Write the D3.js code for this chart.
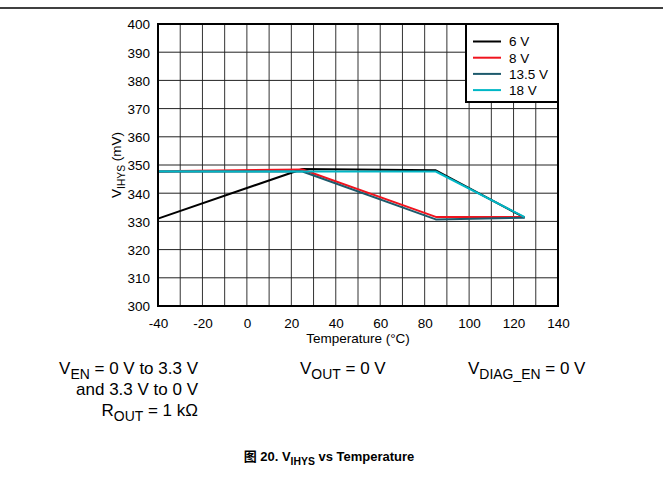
<!DOCTYPE html>
<html>
<head>
<meta charset="utf-8">
<script src="https://cdn.jsdelivr.net/npm/d3@7"></script>
<style>
  body { margin: 0; background: #fff; }
  svg { display: block; font-family: "Liberation Sans", Arial, "Noto Sans CJK SC", sans-serif; }
</style>
</head>
<body>
<div id="chart"></div>
<script>
// temperature breakpoints (degC) and V_IHYS readings (mV) per supply
var temps = [-40, 25, 85, 125];
var series = ['6 V', '8 V', '13.5 V', '18 V'];
var v6 = [331.0, 348.6, 348.1, 331.3];
var v8 = [347.8, 348.4, 331.6, 331.6];
var v13_5 = [347.6, 347.7, 330.7, 331.3];
var v18 = [347.8, 347.7, 347.7, 331.5];
var colors = ['#000000', '#f0141e', '#1d5a6c', '#00b7c6'];
var xTicks = d3.range(-40, 141, 20);
var yTicks = d3.range(300, 401, 10);

var W = 663, H = 491;
var plot = {left: 158, right: 558, top: 24, bottom: 306};

var svg = d3.select('#chart').append('svg')
    .attr('width', W)
    .attr('height', H);

svg.append('rect').attr('width', W).attr('height', H).attr('fill', '#fff');

// rule along the top of the page
svg.append('line')
    .attr('x1', 0).attr('x2', W)
    .attr('y1', 8).attr('y2', 8)
    .attr('stroke', '#000').attr('stroke-width', 1.5);

var x = d3.scaleLinear().domain([-40, 140]).range([plot.left, plot.right]);
var y = d3.scaleLinear().domain([300, 400]).range([plot.bottom, plot.top]);

// grid
var grid = svg.append('g').attr('class', 'grid');
grid.selectAll('.vg').data(d3.range(-30, 140, 10)).enter().append('line')
    .attr('x1', d => x(d)).attr('x2', d => x(d))
    .attr('y1', plot.top).attr('y2', plot.bottom)
    .attr('stroke', '#333').attr('stroke-width', 1);
grid.selectAll('.hg').data(d3.range(310, 400, 10)).enter().append('line')
    .attr('x1', plot.left).attr('x2', plot.right)
    .attr('y1', d => y(d)).attr('y2', d => y(d))
    .attr('stroke', '#222').attr('stroke-width', 1);

// axes (labels only, frame drawn separately)
var xAxis = svg.append('g')
    .attr('transform', 'translate(0,' + plot.bottom + ')')
    .call(d3.axisBottom(x).tickValues(xTicks).tickSize(0).tickPadding(12)
        .tickFormat(d => String(d)));
var yAxis = svg.append('g')
    .attr('transform', 'translate(' + plot.left + ',0)')
    .call(d3.axisLeft(y).tickValues(yTicks).tickSize(0).tickPadding(8)
        .tickFormat(d => String(d)));
[xAxis, yAxis].forEach(function(a) {
    a.select('.domain').remove();
    a.selectAll('text')
        .attr('font-family', '"Liberation Sans", Arial, sans-serif')
        .attr('font-size', 13.5)
        .attr('fill', '#000');
});
yAxis.selectAll('text').attr('dy', '0.36em');

// lines
var line = d3.line().x((d, i) => x(temps[i])).y(d => y(d));
var allValues = [v6, v8, v13_5, v18];
svg.append('g').selectAll('path').data(allValues).enter().append('path')
    .attr('d', line)
    .attr('fill', 'none')
    .attr('stroke', (d, i) => colors[i])
    .attr('stroke-width', 2)
    .attr('stroke-linejoin', 'round');

// frame
svg.append('rect')
    .attr('x', plot.left).attr('y', plot.top)
    .attr('width', plot.right - plot.left).attr('height', plot.bottom - plot.top)
    .attr('fill', 'none').attr('stroke', '#000').attr('stroke-width', 2);

// legend
var lg = svg.append('g');
lg.append('rect')
    .attr('x', 466).attr('y', plot.top)
    .attr('width', plot.right - 466).attr('height', 78)
    .attr('fill', '#fff').attr('stroke', '#000').attr('stroke-width', 2);
var items = lg.selectAll('.item').data(series).enter().append('g')
    .attr('transform', (d, i) => 'translate(0,' + (41.5 + i * 16.2) + ')');
items.append('line')
    .attr('x1', 473).attr('x2', 501)
    .attr('stroke', (d, i) => colors[i]).attr('stroke-width', 2);
items.append('text')
    .attr('x', 509).attr('dy', '0.36em')
    .attr('font-size', 13.5)
    .text(d => d);

// text with subscripts; the shift back is put on the next piece
function rich(g, parts, size, scale) {
    var shift = size * 0.28, back = 0;
    parts.forEach(function(p) {
        var t = g.append('tspan').text(p[0]);
        var dy = back;
        if (p[1]) {
            t.attr('font-size', size * scale);
            dy += shift;
            back = -shift;
        } else {
            back = 0;
        }
        if (dy) t.attr('dy', dy);
    });
    return g;
}

// axis titles
svg.append('text')
    .attr('x', (plot.left + plot.right) / 2).attr('y', 343)
    .attr('text-anchor', 'middle').attr('font-size', 13.5)
    .text('Temperature (°C)');

var yt = svg.append('text')
    .attr('transform', 'translate(121,' + ((plot.top + plot.bottom) / 2) + ') rotate(-90)')
    .attr('text-anchor', 'middle').attr('font-size', 13.5);
rich(yt, [['V'], ['IHYS', true], [' (mV)']], 13.5, 0.76);

// conditions
var fs = 17;
var notes = [
    {x: 198, y: 374, anchor: 'end', parts: [['V'], ['EN', true], [' = 0 V to 3.3 V']]},
    {x: 198, y: 395, anchor: 'end', parts: [['and 3.3 V to 0 V']]},
    {x: 198, y: 416, anchor: 'end', parts: [['R'], ['OUT', true], [' = 1 kΩ']]},
    {x: 300, y: 374, anchor: 'start', parts: [['V'], ['OUT', true], [' = 0 V']]},
    {x: 468, y: 374, anchor: 'start', parts: [['V'], ['DIAG_EN', true], [' = 0 V']]}
];
notes.forEach(function(n) {
    var t = svg.append('text')
        .attr('x', n.x).attr('y', n.y)
        .attr('text-anchor', n.anchor)
        .attr('font-size', fs);
    rich(t, n.parts, fs, 0.82);
});

// caption
var cap = svg.append('text')
    .attr('x', 329).attr('y', 461)
    .attr('text-anchor', 'middle')
    .attr('font-size', 13).attr('font-weight', 'bold');
rich(cap, [['图 20. V'], ['IHYS', true], [' vs Temperature']], 13, 0.8);
</script>
</body>
</html>
